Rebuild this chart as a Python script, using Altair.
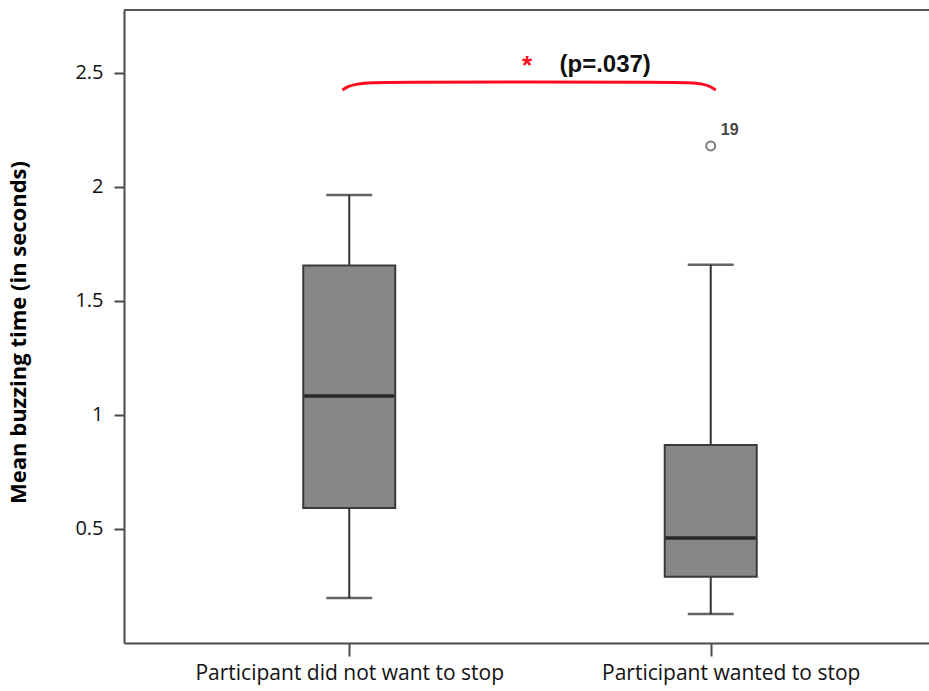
import altair as alt
import pandas as pd

# ---- data ----
group_pos = [1, 2]
group_labels = ["Participant did not want to stop", "Participant wanted to stop"]
whisker_low = [0.197, 0.127]
q1 = [0.592, 0.290]
median = [1.083, 0.460]
q3 = [1.656, 0.868]
whisker_high = [1.965, 1.659]

outlier_pos = [2]
outlier_val = [2.18]
outlier_label = ["19"]

y_ticks = [0.5, 1.0, 1.5, 2.0, 2.5]

brace_x = [0.981, 0.995, 1.02, 1.06, 1.12, 1.5, 1.88, 1.94, 1.98, 2.0, 2.014]
brace_y = [2.425, 2.44, 2.452, 2.458, 2.46, 2.46, 2.46, 2.458, 2.452, 2.44, 2.425]

star_pos = [1.492]
star_val = [2.53]
ptext_pos = [1.708]
ptext_val = [2.535]
ptext = ["(p=.037)"]

W, H = 805, 633
X_DOMAIN = [0.3907, 2.590]
Y_DOMAIN = [0, 2.776]

box = pd.DataFrame({
    "g": group_pos, "label": group_labels, "lo": whisker_low, "q1": q1,
    "med": median, "q3": q3, "hi": whisker_high,
})
out = pd.DataFrame({"g": outlier_pos, "v": outlier_val, "lab": outlier_label})
brace = pd.DataFrame({"x": brace_x, "y": brace_y, "i": list(range(len(brace_x)))})
star = pd.DataFrame({"x": star_pos, "y": star_val, "t": ["*"]})
pt = pd.DataFrame({"x": ptext_pos, "y": ptext_val, "t": ptext})

label_expr = "datum.value == 1 ? '%s' : '%s'" % (group_labels[0], group_labels[1])

xs = alt.Scale(domain=X_DOMAIN, nice=False, zero=False)
ys = alt.Scale(domain=Y_DOMAIN, nice=False, zero=False)

x_axis = alt.Axis(values=group_pos, labelExpr=label_expr, title=None, grid=False,
                  domainColor="#4a4a4a", domainWidth=2, tickColor="#4a4a4a",
                  tickWidth=2, tickSize=13, labelFont="Open Sans",
                  labelFontSize=21, labelColor="#111", labelPadding=6,
                  labelLimit=0, labelOverlap=False,
                  labelOffset={"condition": {"test": "datum.value == 2", "value": 20},
                               "value": 0})
y_axis = alt.Axis(values=y_ticks, format="~g", title="Mean buzzing time (in seconds)",
                  grid=False, domainColor="#4a4a4a", domainWidth=2,
                  tickColor="#4a4a4a", tickWidth=2, tickSize=10,
                  labelFont="Open Sans", labelFontSize=20, labelColor="#111",
                  labelPadding=11, titleFont="Open Sans", titleFontSize=22,
                  titleFontWeight="bold", titleColor="#000", titlePadding=44,
                  titleY=322)

base = alt.Chart(box)

whisk_up = base.mark_rule(color="#333", strokeWidth=2).encode(
    x=alt.X("g:Q", scale=xs, axis=x_axis),
    y=alt.Y("q3:Q", scale=ys, axis=y_axis), y2="hi:Q")
whisk_dn = base.mark_rule(color="#333", strokeWidth=2).encode(
    x=alt.X("g:Q", scale=xs), y=alt.Y("lo:Q", scale=ys), y2="q1:Q")
cap_hi = base.mark_tick(orient="horizontal", size=46, thickness=2.5, color="#222").encode(
    x=alt.X("g:Q", scale=xs), y=alt.Y("hi:Q", scale=ys))
cap_lo = base.mark_tick(orient="horizontal", size=46, thickness=2.5, color="#222").encode(
    x=alt.X("g:Q", scale=xs), y=alt.Y("lo:Q", scale=ys))
boxes = base.mark_bar(width=92, color="#878787", stroke="#3a3a3a", strokeWidth=2).encode(
    x=alt.X("g:Q", scale=xs), y=alt.Y("q1:Q", scale=ys), y2="q3:Q")
med = base.mark_tick(orient="horizontal", size=90, thickness=3.5, color="#000").encode(
    x=alt.X("g:Q", scale=xs), y=alt.Y("med:Q", scale=ys))

outl = alt.Chart(out).mark_point(shape="circle", size=80, filled=False, color="#444",
                                 strokeWidth=2).encode(
    x=alt.X("g:Q", scale=xs), y=alt.Y("v:Q", scale=ys))
outl_lab = alt.Chart(out).mark_text(align="left", baseline="bottom", dx=10, dy=-8,
                                    font="Liberation Sans", fontSize=16,
                                    fontWeight="bold", color="#444").encode(
    x=alt.X("g:Q", scale=xs), y=alt.Y("v:Q", scale=ys), text="lab:N")

brace_line = alt.Chart(brace).mark_line(color="#ff0a1e", strokeWidth=3,
                                        interpolate="basis").encode(
    x=alt.X("x:Q", scale=xs), y=alt.Y("y:Q", scale=ys), order="i:Q")
star_t = alt.Chart(star).mark_text(font="Liberation Sans", fontSize=26,
                                   fontWeight="bold", color="#ff0a1e",
                                   baseline="middle").encode(
    x=alt.X("x:Q", scale=xs), y=alt.Y("y:Q", scale=ys), text="t:N")
p_t = alt.Chart(pt).mark_text(font="Liberation Sans", fontSize=24, fontWeight="bold",
                              color="#111", baseline="middle").encode(
    x=alt.X("x:Q", scale=xs), y=alt.Y("y:Q", scale=ys), text="t:N")

top_border = alt.Chart(box).mark_rule(color="#555", strokeWidth=2).encode(
    x=alt.value(0), x2=alt.value(W), y=alt.value(0))

chart = alt.layer(
    top_border, whisk_up, whisk_dn, cap_hi, cap_lo, boxes, med,
    outl, outl_lab, brace_line, star_t, p_t
).properties(
    width=W, height=H,
    autosize=alt.AutoSizeParams(type="none"),
    padding={"left": 124, "top": 10, "right": 0, "bottom": 48},
    background="white",
).configure_view(stroke=None)

chart.save("out.html", embed_options={"renderer": "svg", "actions": False})
